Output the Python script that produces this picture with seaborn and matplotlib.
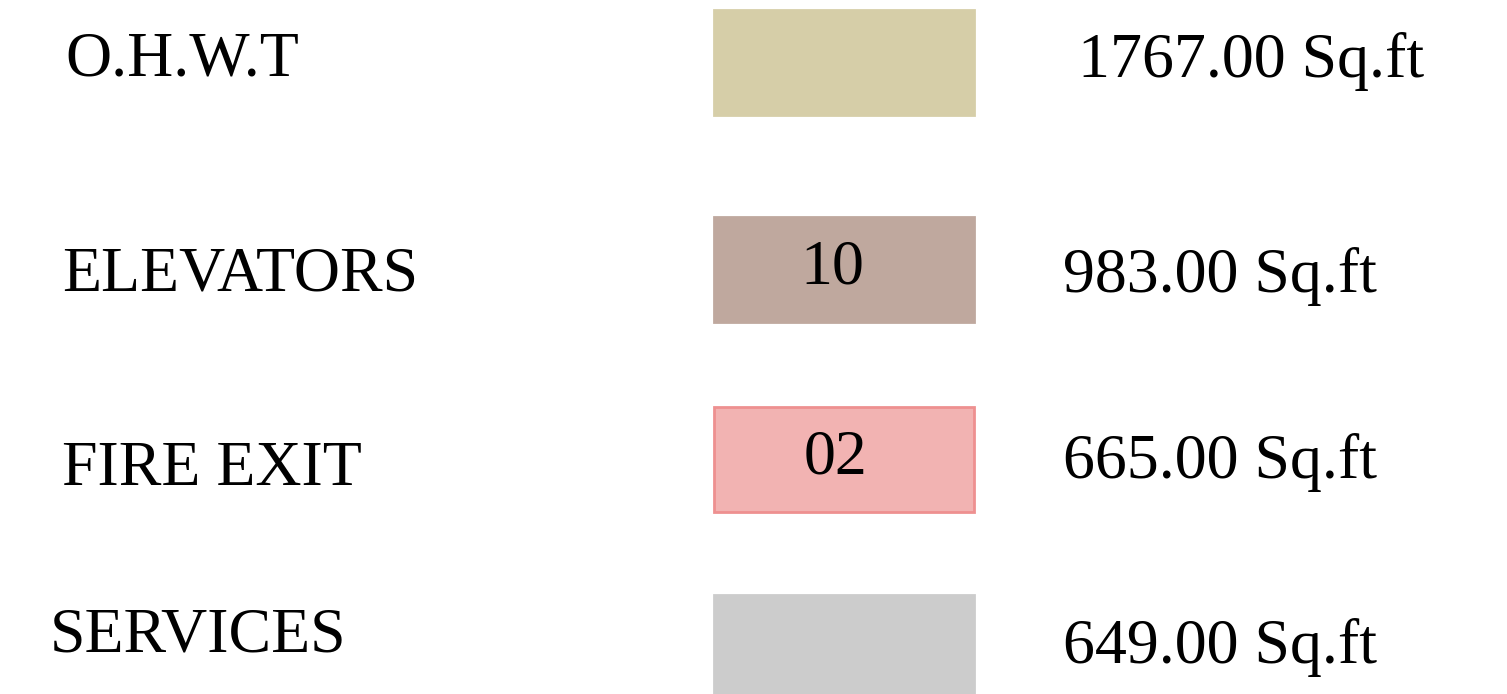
import matplotlib.pyplot as plt
import seaborn as sns

# Données de la légende
categories = ["O.H.W.T", "ELEVATORS", "FIRE EXIT", "SERVICES"]
counts = ["", "10", "02", ""]
areas = [1767.00, 983.00, 665.00, 649.00]
colors = ["#d6cea8", "#bfa89e", "#f2b3b2", "#cccccc"]
edges = ["#d6cea8", "#bfa89e", "#ee9090", "#cccccc"]

# Mise en page (pixels, lignes de base du texte)
ROW_Y = [62, 269, 459, 647]
LABEL_X = [65, 62, 62, 50]
LABEL_Y = [75, 290, 485, 652]
VALUE_X = [1078, 1063, 1063, 1063]
VALUE_Y = [77, 292, 478, 663]
COUNT_X = [832, 832, 836, 832]
COUNT_Y = [0, 283, 473, 0]

sns.set_theme(style="white")
plt.rcParams['font.family'] = ['Liberation Serif', 'DejaVu Serif']

fig = plt.figure(figsize=(15.07, 6.94), dpi=100)
ax = fig.add_axes([0, 0, 1, 1])
ax.set_xlim(0, 1507)
ax.set_ylim(694, 0)
ax.axis('off')

ax.barh(ROW_Y, [260] * len(categories), left=714, height=105,
        color=colors, edgecolor=edges, linewidth=2)

for i, cat in enumerate(categories):
    ax.text(LABEL_X[i], LABEL_Y[i], cat, fontsize=46, va='baseline', ha='left', color='black')
    ax.text(VALUE_X[i], VALUE_Y[i], '{:.2f} Sq.ft'.format(areas[i]),
            fontsize=46, va='baseline', ha='left', color='black')
    if counts[i]:
        ax.text(COUNT_X[i], COUNT_Y[i], counts[i], fontsize=46, va='baseline',
                ha='center', color='black')

plt.savefig('out.png', dpi=100)
plt.close()
